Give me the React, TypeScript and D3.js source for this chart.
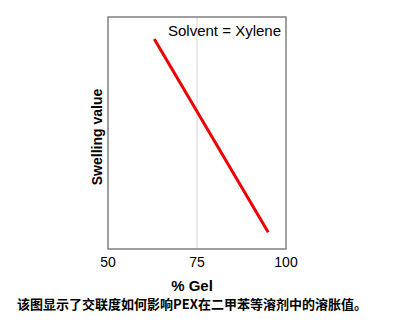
import React from "react";
import * as d3 from "d3";

const gelPercent = [63, 95];
const swellingValues = [9.05, 0.72];
const xTicks = [50, 75, 100];
const gridLines = [75];
const caption = "该图显示了交联度如何影响PEX在二甲苯等溶剂中的溶胀值。";

export default function App() {
  const W = 400, H = 331;
  const left = 108, right = 286, top = 17, bottom = 249;
  const x = d3.scaleLinear().domain([50, 100]).range([left, right]);
  const y = d3.scaleLinear().domain([0, 10]).range([bottom, top]);
  const line = d3.line<number>().x((d, i) => x(gelPercent[i])).y((d) => y(d));
  const font = "Arial, 'Liberation Sans', Helvetica, sans-serif";
  return (
    <svg width={W} height={H} style={{ position: "absolute", left: 0, top: 0 }} fontFamily={font}>
      <rect width={W} height={H} fill="#fff" />
      {gridLines.map((g) => (
        <line key={g} x1={x(g)} x2={x(g)} y1={top} y2={bottom} stroke="#dcdcdc" strokeWidth={1.2} />
      ))}
      <rect x={left} y={top} width={right - left} height={bottom - top} fill="none" stroke="#808080" strokeWidth={1.5} />
      <path d={line(swellingValues) || ""} fill="none" stroke="#ee0000" strokeWidth={3} />
      <text x={281} y={36} textAnchor="end" fontSize={15} fill="#000">Solvent = Xylene</text>
      {xTicks.map((t) => (
        <text key={t} x={x(t)} y={267} textAnchor="middle" fontSize={14} fill="#000">{t}</text>
      ))}
      <text x={192} y={291} textAnchor="middle" fontSize={15} fontWeight="bold" fill="#000">% Gel</text>
      <text transform={`translate(102,137) rotate(-90)`} textAnchor="middle" fontSize={14} fontWeight="bold" fill="#000">Swelling value</text>
      <text x={192} y={309} textAnchor="middle" fontSize={13} fontWeight="bold" fill="#000" fontFamily="'Noto Sans CJK SC', sans-serif">{caption}</text>
    </svg>
  );
}
